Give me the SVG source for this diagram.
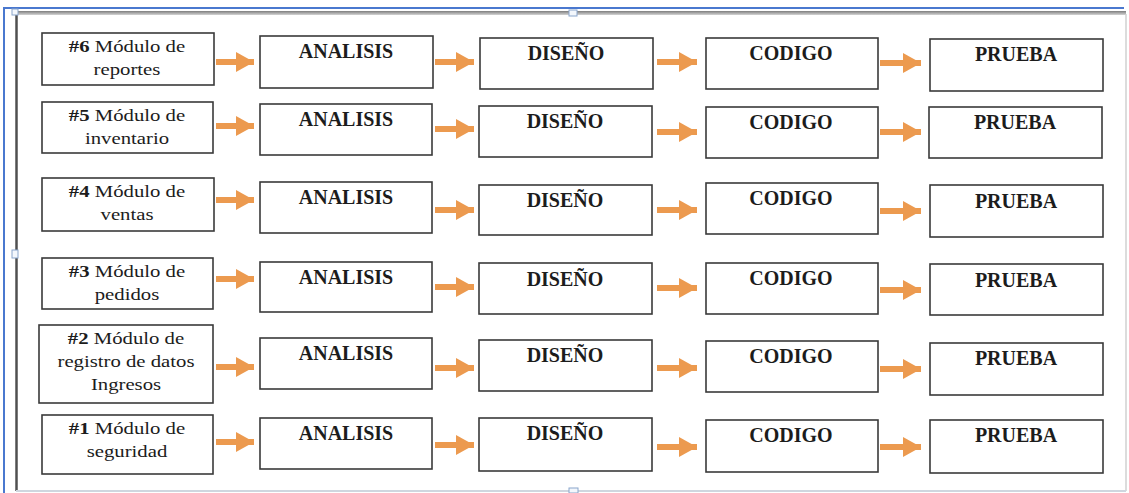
<svg xmlns="http://www.w3.org/2000/svg" width="1129" height="493" viewBox="0 0 1129 493">
<style>
.box{fill:#ffffff;stroke:#3a3a3a;stroke-width:1.6}
.lbl{font-family:"Liberation Serif","Times New Roman",serif;font-size:17px;fill:#1c1c1c;text-anchor:middle}
.stg{font-family:"Liberation Serif","Times New Roman",serif;font-size:20px;font-weight:bold;fill:#1c1c1c;text-anchor:middle}
.b{font-weight:bold}
.arr{stroke:#ec9a4f;stroke-width:6;fill:none;marker-end:url(#ah)}
.hd{fill:#f3f7fc;stroke:#8aa6cc;stroke-width:1}
</style>
<defs>
<marker id="ah" markerUnits="userSpaceOnUse" markerWidth="20" markerHeight="22" refX="18" refY="11" orient="auto">
<path d="M0,1 L18,11 L0,21 Z" fill="#ec9a4f"/>
</marker>
<linearGradient id="topbar" x1="0" y1="0" x2="0" y2="1">
<stop offset="0" stop-color="#7d7d7d"/>
<stop offset="1" stop-color="#d4d4d4"/>
</linearGradient>
</defs>
<rect width="1129" height="493" fill="#ffffff"/>
<g id="frame">
<path d="M4,493 V8 H1124" fill="none" stroke="#4a78cf" stroke-width="2"/>
<rect x="16" y="11" width="1110" height="4" fill="url(#topbar)"/>
<line x1="16.5" y1="12" x2="16.5" y2="491" stroke="#505050" stroke-width="2.5"/>
<line x1="1126" y1="14" x2="1126" y2="491" stroke="#d0d0d0" stroke-width="1.5"/>
<line x1="16" y1="491" x2="1126" y2="491" stroke="#cfd6df" stroke-width="2"/>
<rect class="hd" x="569" y="10" width="8" height="6"/>
<rect class="hd" x="12" y="250" width="6" height="8"/>
<rect class="hd" x="569" y="488" width="9" height="5"/>
<rect class="hd" x="12" y="9" width="6" height="6"/>
</g>

<g id="connectors">
<line class="arr" x1="216" y1="62" x2="254" y2="62"/>
<line class="arr" x1="435" y1="62" x2="474" y2="62"/>
<line class="arr" x1="657" y1="62" x2="697" y2="62"/>
<line class="arr" x1="880" y1="63" x2="921" y2="63"/>

<line class="arr" x1="216" y1="126" x2="254" y2="126"/>
<line class="arr" x1="435" y1="129" x2="474" y2="129"/>
<line class="arr" x1="657" y1="132" x2="697" y2="132"/>
<line class="arr" x1="880" y1="132" x2="921" y2="132"/>

<line class="arr" x1="216" y1="200" x2="254" y2="200"/>
<line class="arr" x1="435" y1="210" x2="474" y2="210"/>
<line class="arr" x1="657" y1="210" x2="697" y2="210"/>
<line class="arr" x1="880" y1="211" x2="921" y2="211"/>

<line class="arr" x1="216" y1="279" x2="254" y2="279"/>
<line class="arr" x1="435" y1="287" x2="474" y2="287"/>
<line class="arr" x1="657" y1="288" x2="697" y2="288"/>
<line class="arr" x1="880" y1="290" x2="921" y2="290"/>

<line class="arr" x1="216" y1="367" x2="254" y2="367"/>
<line class="arr" x1="435" y1="368" x2="474" y2="368"/>
<line class="arr" x1="657" y1="368" x2="697" y2="368"/>
<line class="arr" x1="880" y1="369" x2="921" y2="369"/>

<line class="arr" x1="216" y1="442" x2="254" y2="442"/>
<line class="arr" x1="435" y1="445" x2="474" y2="445"/>
<line class="arr" x1="657" y1="447" x2="697" y2="447"/>
<line class="arr" x1="880" y1="447" x2="921" y2="447"/>
</g>

<!-- Row 1 -->
<g id="m6">
<rect class="box" x="42" y="33" width="172" height="52"/>
<g transform="translate(127,0) scale(1.22,1)">
<text class="lbl" x="0" y="52"><tspan class="b">#6</tspan> Módulo de</text>
<text class="lbl" x="0" y="75">reportes</text>
</g>
</g>
<g id="m6-analisis"><rect class="box" x="260" y="36" width="173" height="52"/><text class="stg" x="346" y="58">ANALISIS</text></g>
<g id="m6-diseno"><rect class="box" x="480" y="38" width="173" height="51"/><text class="stg" x="566" y="60">DISEÑO</text></g>
<g id="m6-codigo"><rect class="box" x="706" y="38" width="172" height="51"/><text class="stg" x="791" y="60">CODIGO</text></g>
<g id="m6-prueba"><rect class="box" x="930" y="39" width="173" height="52"/><text class="stg" x="1016" y="61">PRUEBA</text></g>

<!-- Row 2 -->
<g id="m5">
<rect class="box" x="42" y="102" width="171" height="51"/>
<g transform="translate(127,0) scale(1.22,1)">
<text class="lbl" x="0" y="121"><tspan class="b">#5</tspan> Módulo de</text>
<text class="lbl" x="0" y="144">inventario</text>
</g>
</g>
<g id="m5-analisis"><rect class="box" x="260" y="104" width="172" height="51"/><text class="stg" x="346" y="126">ANALISIS</text></g>
<g id="m5-diseno"><rect class="box" x="479" y="106" width="173" height="51"/><text class="stg" x="565" y="128">DISEÑO</text></g>
<g id="m5-codigo"><rect class="box" x="706" y="107" width="172" height="51"/><text class="stg" x="791" y="129">CODIGO</text></g>
<g id="m5-prueba"><rect class="box" x="929" y="107" width="173" height="51"/><text class="stg" x="1015" y="129">PRUEBA</text></g>

<!-- Row 3 -->
<g id="m4">
<rect class="box" x="42" y="178" width="172" height="53"/>
<g transform="translate(127,0) scale(1.22,1)">
<text class="lbl" x="0" y="197"><tspan class="b">#4</tspan> Módulo de</text>
<text class="lbl" x="0" y="220">ventas</text>
</g>
</g>
<g id="m4-analisis"><rect class="box" x="260" y="182" width="172" height="51"/><text class="stg" x="346" y="204">ANALISIS</text></g>
<g id="m4-diseno"><rect class="box" x="479" y="185" width="173" height="50"/><text class="stg" x="565" y="207">DISEÑO</text></g>
<g id="m4-codigo"><rect class="box" x="706" y="183" width="172" height="51"/><text class="stg" x="791" y="205">CODIGO</text></g>
<g id="m4-prueba"><rect class="box" x="930" y="185" width="173" height="52"/><text class="stg" x="1016" y="208">PRUEBA</text></g>

<!-- Row 4 -->
<g id="m3">
<rect class="box" x="42" y="258" width="171" height="51"/>
<g transform="translate(127,0) scale(1.22,1)">
<text class="lbl" x="0" y="277"><tspan class="b">#3</tspan> Módulo de</text>
<text class="lbl" x="0" y="300">pedidos</text>
</g>
</g>
<g id="m3-analisis"><rect class="box" x="260" y="262" width="172" height="50"/><text class="stg" x="346" y="284">ANALISIS</text></g>
<g id="m3-diseno"><rect class="box" x="479" y="263" width="173" height="51"/><text class="stg" x="565" y="286">DISEÑO</text></g>
<g id="m3-codigo"><rect class="box" x="706" y="263" width="172" height="51"/><text class="stg" x="791" y="285">CODIGO</text></g>
<g id="m3-prueba"><rect class="box" x="930" y="264" width="173" height="51"/><text class="stg" x="1016" y="287">PRUEBA</text></g>

<!-- Row 5 -->
<g id="m2">
<rect class="box" x="39" y="325" width="174" height="78"/>
<g transform="translate(126,0) scale(1.22,1)">
<text class="lbl" x="0" y="344"><tspan class="b">#2</tspan> Módulo de</text>
<text class="lbl" x="0" y="367">registro de datos</text>
<text class="lbl" x="0" y="390">Ingresos</text>
</g>
</g>
<g id="m2-analisis"><rect class="box" x="260" y="338" width="172" height="51"/><text class="stg" x="346" y="360">ANALISIS</text></g>
<g id="m2-diseno"><rect class="box" x="479" y="340" width="173" height="51"/><text class="stg" x="565" y="362">DISEÑO</text></g>
<g id="m2-codigo"><rect class="box" x="706" y="341" width="172" height="51"/><text class="stg" x="791" y="363">CODIGO</text></g>
<g id="m2-prueba"><rect class="box" x="930" y="343" width="173" height="52"/><text class="stg" x="1016" y="365">PRUEBA</text></g>

<!-- Row 6 -->
<g id="m1">
<rect class="box" x="42" y="415" width="171" height="59"/>
<g transform="translate(127,0) scale(1.22,1)">
<text class="lbl" x="0" y="434"><tspan class="b">#1</tspan> Módulo de</text>
<text class="lbl" x="0" y="457">seguridad</text>
</g>
</g>
<g id="m1-analisis"><rect class="box" x="260" y="418" width="172" height="51"/><text class="stg" x="346" y="440">ANALISIS</text></g>
<g id="m1-diseno"><rect class="box" x="479" y="418" width="173" height="53"/><text class="stg" x="565" y="440">DISEÑO</text></g>
<g id="m1-codigo"><rect class="box" x="706" y="420" width="172" height="52"/><text class="stg" x="791" y="442">CODIGO</text></g>
<g id="m1-prueba"><rect class="box" x="930" y="420" width="173" height="53"/><text class="stg" x="1016" y="442">PRUEBA</text></g>
</svg>
